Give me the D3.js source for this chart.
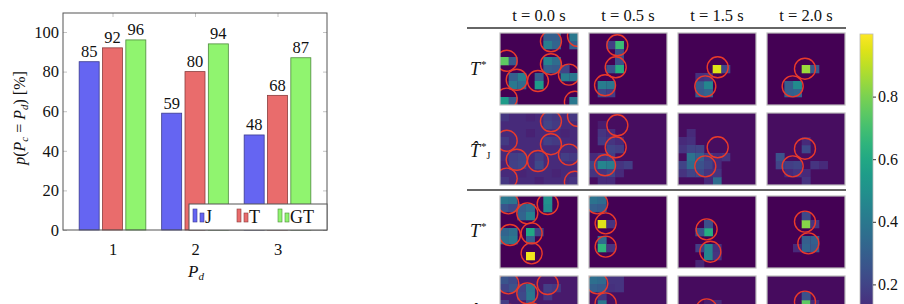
<!DOCTYPE html>
<html><head><meta charset="utf-8">
<script src="https://cdn.jsdelivr.net/npm/d3@7"></script>
<style>body{margin:0;background:#fff}svg{display:block}text{font-family:"Liberation Serif",serif;fill:#111}</style>
</head><body><script>
// ---------- bar chart data ----------
const categories = [1, 2, 3];
const seriesNames = ["J", "T", "GT"];
const valuesJ = [85, 59, 48];
const valuesT = [92, 80, 68];
const valuesGT = [96, 94, 87];
const yTicks = [0, 20, 40, 60, 80, 100];
const barFills = ["#6565f2", "#e96c6c", "#90f46f"];
const barStrokes = ["#3b3b8f", "#8a3c3c", "#4d8a3c"];

// ---------- heatmap data ----------
const timeLabels = ["t = 0.0 s", "t = 0.5 s", "t = 1.5 s", "t = 2.0 s"];
const colorbarTicks = [0.2, 0.4, 0.6, 0.8];
// [col,row,value] on a 9x9 grid, background values per panel
const bgRow1 = [0, 0, 0, 0];
const bgRow2 = [0.12, 0.035, 0.035, 0.035];
const bgRow3 = [0, 0, 0, 0];
const bgRow4 = [0.07, 0.04, 0.03, 0.03];
const cellsRow1 = [
  [[5,0,.30],[6,0,.30],[5,1,.42],[6,1,.32],[8,0,.40],[8,1,.30],[0,3,.75],[1,3,.28],[5,3,.44],[6,3,.35],[5,4,.30],[6,4,.28],[1,5,.30],[2,5,.42],[1,6,.40],[2,6,.35],[4,5,.30],[4,6,.55],[7,5,.42],[8,5,.40],[7,4,.20],[0,8,.55],[1,8,.28],[8,8,.40]],
  [[3,1,.68],[2,1,.18],[3,2,.24],[3,3,.24],[3,4,.62],[2,4,.26],[1,6,.42],[2,6,.40],[1,7,.22],[2,7,.18]],
  [[4,4,.95],[5,4,.22],[2,6,.30],[3,6,.46],[2,7,.28],[3,7,.32],[2,5,.14],[3,5,.16]],
  [[4,4,.85],[5,4,.28],[2,6,.30],[3,6,.48],[2,7,.30],[3,7,.32]]
];
const cellsRow2 = [
  [[5,0,.18],[6,0,.16],[5,1,.20],[6,1,.17],[0,0,.16],[8,0,.16],[0,3,.17],[5,3,.19],[6,3,.17],[1,5,.18],[2,5,.20],[1,6,.19],[2,6,.21],[4,5,.18],[4,6,.22],[7,5,.18],[8,5,.17],[0,8,.16],[8,8,.15],[3,2,.09],[2,7,.10],[6,7,.10],[4,8,.09],[7,2,.10],[0,6,.10],[3,0,.10]],
  [[1,1,.08],[1,2,.15],[2,2,.12],[1,3,.17],[2,3,.15],[3,3,.12],[2,4,.20],[3,4,.18],[0,5,.12],[1,5,.15],[2,5,.18],[0,6,.20],[1,6,.45],[2,6,.42],[3,6,.15],[4,6,.18],[0,7,.15],[1,7,.15],[2,7,.20],[3,7,.12],[1,8,.12],[2,8,.12]],
  [[0,3,.12],[1,2,.12],[1,3,.14],[0,4,.15],[1,4,.20],[2,4,.20],[1,5,.38],[2,5,.30],[0,6,.20],[1,6,.35],[2,6,.25],[3,5,.18],[3,6,.20],[4,5,.12],[5,5,.15],[4,6,.12],[0,7,.15],[1,7,.20],[2,7,.22],[3,7,.15],[4,8,.35],[4,7,.15],[3,8,.12]],
  [[1,5,.25],[1,6,.20],[4,4,.22],[4,3,.12],[2,6,.18],[3,6,.20],[2,7,.12],[3,7,.15],[5,6,.15],[6,6,.12],[4,7,.12],[4,8,.15]]
];
const cellsRow3 = [
  [[0,0,.40],[1,0,.38],[0,1,.26],[1,1,.22],[5,0,.50],[5,1,.48],[2,1,.30],[3,1,.34],[2,2,.32],[3,2,.44],[0,4,.32],[1,4,.36],[0,5,.36],[1,5,.40],[3,4,.60],[3,5,.30],[4,4,.20],[3,7,.98]],
  [[0,0,.38],[1,0,.35],[0,1,.30],[1,1,.28],[1,3,.95],[2,3,.15],[1,5,.35],[1,6,.65],[2,6,.15]],
  [[3,4,.62],[2,4,.25],[3,3,.24],[3,6,.45],[3,7,.45],[2,6,.18],[4,6,.14],[4,7,.15],[2,8,.10]],
  [[4,3,.82],[4,2,.22],[5,3,.15],[4,5,.30],[5,5,.30],[4,6,.32],[5,6,.28],[3,6,.12]]
];
const cellsRow4 = [
  [[0,0,.26],[1,0,.22],[0,1,.20],[1,1,.25],[2,1,.20],[3,1,.38],[3,2,.40],[2,2,.22],[5,1,.18],[5,2,.15],[0,3,.18],[3,3,.25],[6,1,.16]],
  [[0,0,.36],[1,0,.34],[0,1,.30],[1,1,.28],[2,0,.15],[2,1,.14],[3,0,.15],[3,1,.15],[1,3,.40],[1,2,.15]],
  [[4,3,.12],[3,3,.08]],
  [[4,3,.75],[4,2,.25],[5,3,.12]]
];
// ground-truth circle centres in grid units [col,row]
const circlesTop = [
  [[5.88,1.04],[9.0,0.38],[0.77,3.46],[5.88,3.9],[1.93,5.84],[4.38,6.0],[7.96,5.2],[0.77,8.2],[8.65,8.6]],
  [[3.27,1.54],[3.08,4.29],[1.85,6.54]],
  [[4.58,4.29],[3.15,6.67]],
  [[4.38,4.46],[2.96,6.67]]
];
const circlesBottom = [
  [[0.96,0.92],[3.15,2.17],[5.5,1.0],[1.15,4.88],[3.65,4.67],[3.65,7.17]],
  [[0.96,0.92],[1.92,3.42],[1.92,6.33]],
  [[3.3,4.17],[3.73,6.96]],
  [[4.38,3.2],[4.77,5.92]]
];

const svg = d3.select("body").append("svg").attr("width", 904).attr("height", 304);

// ================= BAR CHART =================
const x = d3.scaleLinear().domain([0.4, 3.6]).range([63, 327]);
const y = d3.scaleLinear().domain([0, 109.6]).range([230, 13]);
const xs = d3.scaleBand().domain(seriesNames).range([-35, 35]).paddingInner(0.143).paddingOuter(0.0715);
const series = [valuesJ, valuesT, valuesGT];

const tickColor = "#c4c4c4";
const axL = svg.append("g").attr("transform", "translate(63,0)")
  .call(d3.axisLeft(y).tickValues(yTicks).tickSize(-4).tickPadding(4));
const axB = svg.append("g").attr("transform", "translate(0,230)")
  .call(d3.axisBottom(x).tickValues(categories).tickSize(-4).tickPadding(13).tickFormat(d3.format("d")));
const axR = svg.append("g").attr("transform", "translate(327,0)")
  .call(d3.axisRight(y).tickValues(yTicks).tickSize(-4).tickFormat(""));
const axT = svg.append("g").attr("transform", "translate(0,13)")
  .call(d3.axisTop(x).tickValues(categories).tickSize(-4).tickFormat(""));
[axL, axB, axR, axT].forEach(a => {
  a.select(".domain").remove();
  a.selectAll(".tick line").attr("stroke", tickColor);
  a.selectAll("text").attr("font-family", "Liberation Serif").attr("font-size", 16.5).attr("fill", "#111");
});

series.forEach((vals, si) => {
  const g = svg.append("g");
  g.selectAll("rect").data(vals).join("rect")
    .attr("x", (d, i) => x(categories[i]) + xs(seriesNames[si]))
    .attr("width", xs.bandwidth())
    .attr("y", d => y(d))
    .attr("height", d => y(0) - y(d))
    .attr("fill", barFills[si]).attr("stroke", barStrokes[si]).attr("stroke-width", 0.8);
  g.selectAll("text").data(vals).join("text")
    .attr("x", (d, i) => x(categories[i]) + xs(seriesNames[si]) + xs.bandwidth() / 2)
    .attr("y", d => y(d) - 4.5)
    .attr("text-anchor", "middle").attr("font-size", 16.5)
    .text(d => d);
});

svg.append("rect").attr("x", 63).attr("y", 13).attr("width", 264).attr("height", 217)
  .attr("fill", "none").attr("stroke", "#555").attr("stroke-width", 1);

// legend
const leg = svg.append("g");
leg.append("rect").attr("x", 189).attr("y", 204).attr("width", 138).attr("height", 26)
  .attr("fill", "#fff").attr("stroke", "#555").attr("stroke-width", 1);
const legX = [193, 237, 278];
seriesNames.forEach((n, i) => {
  leg.append("rect").attr("x", legX[i]).attr("y", 209).attr("width", 4).attr("height", 13)
    .attr("fill", barFills[i]).attr("stroke", barStrokes[i]).attr("stroke-width", 0.6);
  leg.append("rect").attr("x", legX[i] + 7).attr("y", 213).attr("width", 4).attr("height", 9)
    .attr("fill", barFills[i]).attr("stroke", barStrokes[i]).attr("stroke-width", 0.6);
  leg.append("text").attr("x", legX[i] + 12).attr("y", 223).attr("font-size", 18).text(n);
});

// y label
const yl = svg.append("text").attr("transform", "translate(25,118) rotate(-90)")
  .attr("text-anchor", "middle").attr("font-size", 16);
yl.append("tspan").attr("font-style", "italic").text("p");
yl.append("tspan").text("(");
yl.append("tspan").attr("font-style", "italic").text("P");
yl.append("tspan").attr("font-size", 11).attr("font-style", "italic").attr("dy", 3).text("c");
yl.append("tspan").attr("dy", -3).text(" = ");
yl.append("tspan").attr("font-style", "italic").text("P");
yl.append("tspan").attr("font-size", 11).attr("font-style", "italic").attr("dy", 3).text("d");
yl.append("tspan").attr("dy", -3).text(") [%]");
// x label
const xl = svg.append("text").attr("x", 196).attr("y", 277).attr("text-anchor", "middle").attr("font-size", 17);
xl.append("tspan").attr("font-style", "italic").text("P");
xl.append("tspan").attr("font-size", 11).attr("font-style", "italic").attr("dy", 3).text("d");

// ================= HEATMAP GRID =================
const panelX = d3.scaleBand().domain(d3.range(4)).range([500, 845]).paddingInner(0.124);
const rowY = d3.scaleLinear().domain([0, 1]).range([33, 113]);
const rowTop = r => rowY(r) + (r >= 2 ? 3 : 0);
const PW = panelX.bandwidth(), PH = 72;
const cx = d3.scaleBand().domain(d3.range(9)).range([0, PW]);
const cy = d3.scaleBand().domain(d3.range(9)).range([0, PH]);
const gx = d3.scaleLinear().domain([0, 9]).range([0, PW]);
const gy = d3.scaleLinear().domain([0, 9]).range([0, PH]);
const color = d3.scaleSequential(d3.interpolateViridis).domain([0, 1]);

const defs = svg.append("defs");
defs.append("clipPath").attr("id", "pclip").append("rect").attr("width", PW).attr("height", PH);

const rows = [
  {bg: bgRow1, cells: cellsRow1, circ: circlesTop},
  {bg: bgRow2, cells: cellsRow2, circ: circlesTop},
  {bg: bgRow3, cells: cellsRow3, circ: circlesBottom},
  {bg: bgRow4, cells: cellsRow4, circ: circlesBottom}
];
rows.forEach((row, r) => {
  for (let c = 0; c < 4; c++) {
    const g = svg.append("g").attr("transform", `translate(${panelX(c)},${rowTop(r)})`);
    const inner = g.append("g").attr("clip-path", "url(#pclip)");
    inner.append("rect").attr("width", PW).attr("height", PH).attr("fill", color(row.bg[c]));
    inner.selectAll("rect.cell").data(row.cells[c]).join("rect").attr("class", "cell")
      .attr("x", d => cx(d[0])).attr("y", d => cy(d[1]))
      .attr("width", cx.bandwidth() + 0.3).attr("height", cy.bandwidth() + 0.3)
      .attr("fill", d => color(d[2]));
    inner.selectAll("circle").data(row.circ[c]).join("circle")
      .attr("cx", d => gx(d[0])).attr("cy", d => gy(d[1])).attr("r", 10.5)
      .attr("fill", "none").attr("stroke", "#ea3a2a").attr("stroke-width", 1.4);
    g.append("rect").attr("width", PW).attr("height", PH)
      .attr("fill", "none").attr("stroke", "#bdbdbd").attr("stroke-width", 1.2);
  }
});

// headers
svg.selectAll("text.hdr").data(timeLabels).join("text").attr("class", "hdr")
  .attr("x", (d, i) => panelX(i) + PW / 2).attr("y", 21)
  .attr("text-anchor", "middle").attr("font-size", 16.5).text(d => d);
// separator lines
[28, 190].forEach(yy => svg.append("line").attr("x1", 467).attr("x2", 846).attr("y1", yy).attr("y2", yy)
  .attr("stroke", "#333").attr("stroke-width", 1.3));

// row labels: T* and T-hat*_J (hat as combining accent in one text)
const rowLabelBase = [75, 157, 237, 319];
const rowLabelHat = [false, true, false, true];
rowLabelBase.forEach((b, r) => {
  const t = svg.append("text").attr("x", 470).attr("y", b).attr("font-size", 18);
  t.append("tspan").attr("font-style", "italic").text(rowLabelHat[r] ? "T\u0302" : "T");
  t.append("tspan").attr("font-size", 11).attr("dy", -7).attr("dx", 1).text("*");
  if (rowLabelHat[r]) {
    t.append("tspan").attr("font-size", 10).attr("dy", 9).attr("dx", 0).text("J");
  }
});

// colorbar
const cb = d3.scaleLinear().domain([0, 1]).range([347, 34]);
const grad = defs.append("linearGradient").attr("id", "vir").attr("x1", 0).attr("y1", 1).attr("x2", 0).attr("y2", 0);
d3.range(0, 1.0001, 0.05).forEach(t => grad.append("stop").attr("offset", t).attr("stop-color", color(t)));
svg.append("rect").attr("x", 860).attr("y", cb(1)).attr("width", 13).attr("height", cb(0) - cb(1))
  .attr("fill", "url(#vir)").attr("stroke", "#bbb").attr("stroke-width", 0.8);
const cbAx = svg.append("g").attr("transform", "translate(873,0)")
  .call(d3.axisRight(cb).tickValues(colorbarTicks).tickSize(3).tickPadding(2).tickFormat(d3.format(".1f")));
cbAx.select(".domain").remove();
cbAx.selectAll(".tick line").attr("stroke", "#333");
cbAx.selectAll("text").attr("font-family", "Liberation Serif").attr("font-size", 16).attr("fill", "#111");
</script></body></html>
